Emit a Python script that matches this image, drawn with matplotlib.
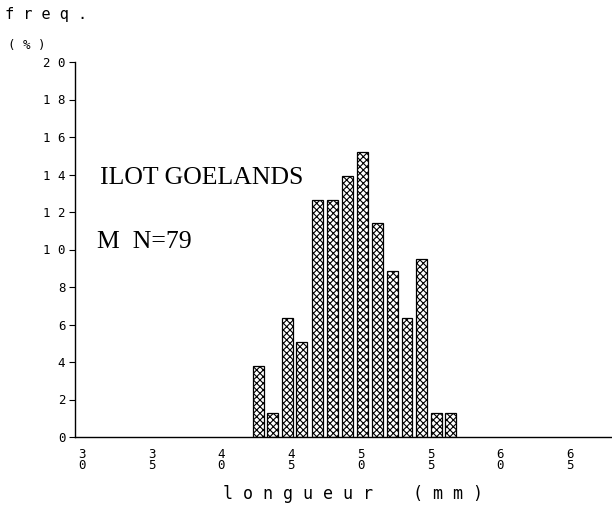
import matplotlib
matplotlib.use("Agg")
import matplotlib.pyplot as plt

# data
lengths = [42.63, 43.63, 44.73, 45.77, 46.91, 47.96, 49.06, 50.11, 51.2, 52.25, 53.3, 54.37, 55.39, 56.44]
freqs = [3.8, 1.27, 6.33, 5.06, 12.66, 12.66, 13.92, 15.19, 11.39, 8.86, 6.33, 9.5, 1.27, 1.27]
xticks = [30, 35, 40, 45, 50, 55, 60, 65]
yticks = [0, 2, 4, 6, 8, 10, 12, 14, 16, 18, 20]

plt.rcParams['hatch.linewidth'] = 0.8
fig = plt.figure(figsize=(6.12, 5.05), dpi=100)
ax = fig.add_axes([75/612, 68/505, 537/612, 375/505])

ax.bar(lengths, freqs, width=0.78, color='white', edgecolor='black',
       hatch='xxxxx', linewidth=0.9)

ax.set_xlim(29.5, 68)
ax.set_ylim(0, 20)
ax.spines['top'].set_visible(False)
ax.spines['right'].set_visible(False)
ax.spines['left'].set_linewidth(1.0)
ax.spines['bottom'].set_linewidth(1.0)

mono = 'DejaVu Sans Mono'
ax.set_yticks(yticks)
ax.set_yticklabels([' '.join(str(v)) for v in yticks], family=mono, fontsize=9)
ax.tick_params(axis='y', direction='out', length=4, width=0.8, pad=3)
ax.set_xticks(xticks)
ax.set_xticklabels(['\n'.join(str(v)) for v in xticks], family=mono, fontsize=9,
                   linespacing=0.8)
ax.tick_params(axis='x', length=0, pad=8)

ax.text(25/537, 0.69, 'ILOT GOELANDS', transform=ax.transAxes, family='Liberation Serif',
        fontsize=18.5, va='center', ha='left')
ax.text(22/537, 0.52, 'M  N=79', transform=ax.transAxes, family='Liberation Serif',
        fontsize=18.5, va='center', ha='left')

fig.text(5/612, 1 - 14/505, 'f r e q .', family=mono, fontsize=11, va='center', ha='left')
fig.text(8/612, 1 - 46/505, '( % )', family=mono, fontsize=9, va='center', ha='left')
fig.text(353/612, 1 - 494/505, 'l o n g u e u r    ( m m )', family=mono, fontsize=12,
         va='center', ha='center')

fig.savefig('out.png', dpi=100)
